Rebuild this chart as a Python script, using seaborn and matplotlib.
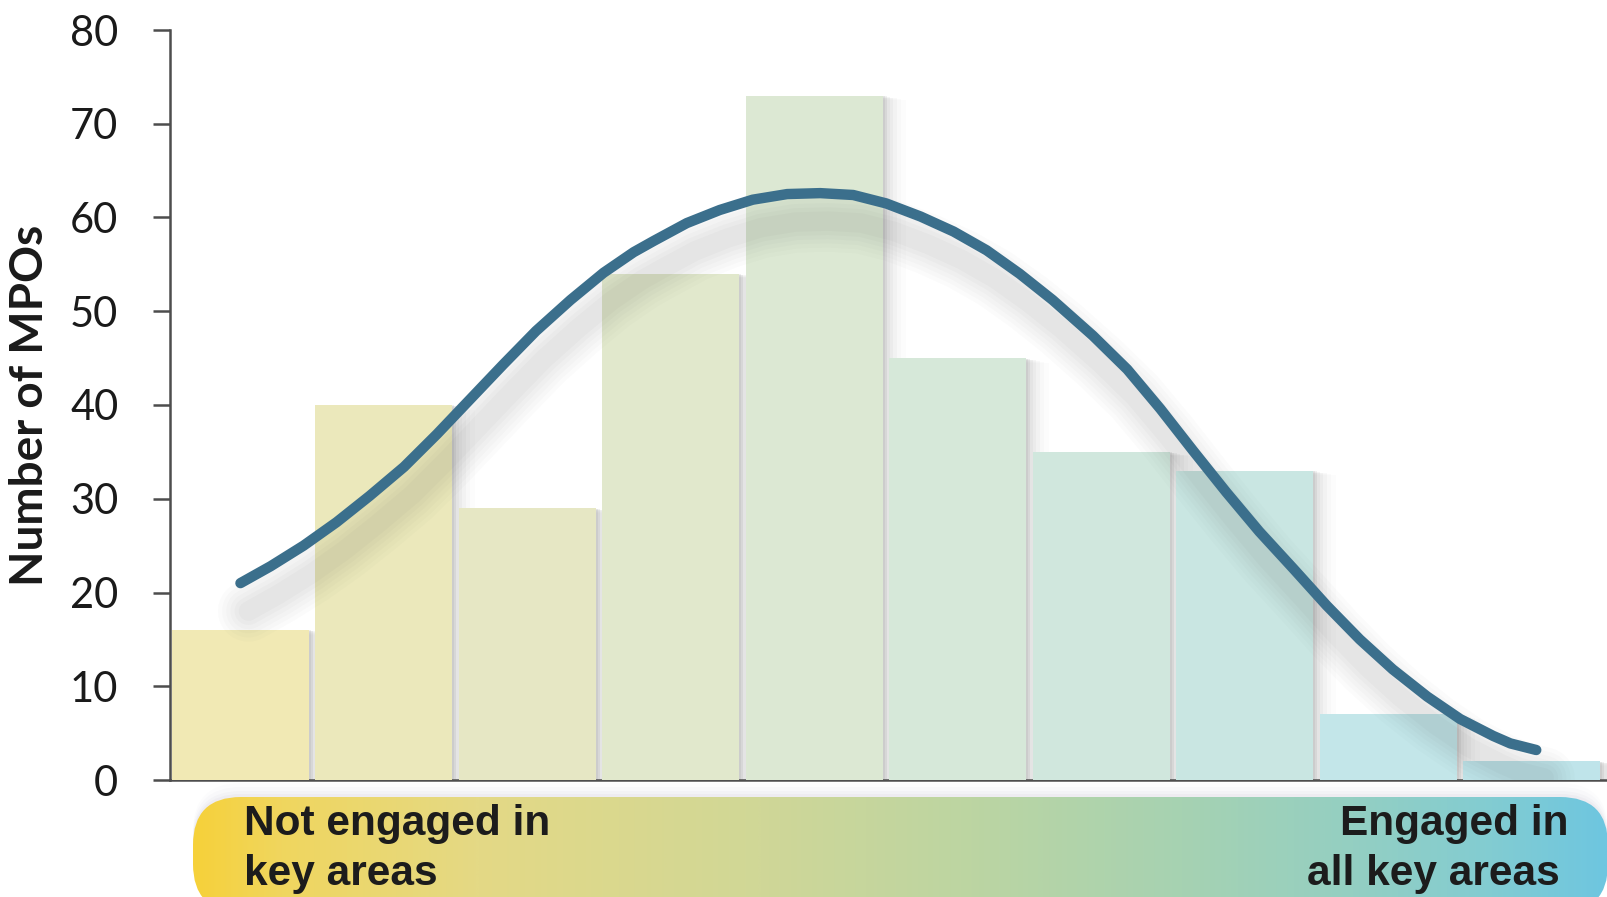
import numpy as np
import matplotlib
matplotlib.use("Agg")
import matplotlib.pyplot as plt
import matplotlib.transforms as mtransforms
from matplotlib.patches import FancyBboxPatch
from matplotlib.colors import LinearSegmentedColormap
import seaborn as sns

# Engagement bins, from least to most engaged, and the number of MPOs in each
bins = ["1", "2", "3", "4", "5", "6", "7", "8", "9", "10"]
mpo_counts = [16, 40, 29, 54, 73, 45, 35, 33, 7, 2]
bar_colors = ["#f1e9b4", "#ebe8bb", "#e6e7c4", "#e1e8cc", "#dce8d3",
              "#d6e8d9", "#d0e7dd", "#c9e6e2", "#c3e6e9", "#bfe4ea"]

# Smoothed distribution curve drawn over the bars (bin position, count)
curve_pos = [0.00, 0.21, 0.44, 0.67, 0.90, 1.14, 1.37, 1.60, 1.83, 2.06, 2.30,
             2.53, 2.74, 2.88, 3.11, 3.34, 3.57, 3.81, 4.04, 4.27, 4.50, 4.74,
             4.97, 5.20, 5.43, 5.66, 5.94, 6.18, 6.41, 6.64, 6.87, 7.10, 7.34,
             7.57, 7.80, 8.03, 8.27, 8.50, 8.73, 8.85, 9.03]
curve_val = [21.0, 22.8, 25.0, 27.5, 30.3, 33.4, 36.9, 40.6, 44.3, 47.9, 51.2,
             54.1, 56.3, 57.5, 59.4, 60.8, 61.9, 62.5, 62.6, 62.4, 61.5, 60.1,
             58.5, 56.5, 54.0, 51.2, 47.4, 43.8, 39.6, 35.1, 30.7, 26.5, 22.5,
             18.6, 15.0, 11.8, 8.9, 6.5, 4.7, 3.9, 3.2]

y_ticks = [0, 10, 20, 30, 40, 50, 60, 70, 80]
y_label = "Number of MPOs"
left_caption = ["Not engaged in", "key areas"]
right_caption = ["Engaged in", "all key areas"]
band_stops = [(0.00, "#f6d13a"), (0.06, "#f0d65e"), (0.20, "#e4d985"),
              (0.40, "#d0d797"), (0.55, "#bcd5a2"), (0.70, "#a6d2b2"),
              (0.82, "#94cfc2"), (0.92, "#82ccd2"), (1.00, "#6ec6e0")]

sns.set_theme(style="white")
plt.rcParams["font.family"] = ["Lato", "DejaVu Sans"]

W, H = 1608, 897
fig = plt.figure(figsize=(W / 100, H / 100), dpi=100)
fig.patch.set_facecolor("white")
ax = fig.add_axes([170 / W, 1 - 780 / H, (W - 170) / W, 750 / H])

bar_w = 0.955
sns.barplot(x=bins, y=mpo_counts, hue=bins, palette=bar_colors, legend=False,
            width=bar_w, saturation=1, linewidth=0, zorder=3, ax=ax)

# soft drop shadow to the right of each bar
x_idx = np.arange(len(mpo_counts))
for dx, a in [(2, 0.11), (4, 0.09), (7, 0.065), (10, 0.05), (14, 0.035), (18, 0.025),
              (23, 0.015)]:
    tr = mtransforms.offset_copy(ax.transData, fig=fig, x=dx, y=-dx * 0.2, units="dots")
    ax.bar(x_idx, mpo_counts, width=bar_w, color="#6e6e6e", alpha=a,
           linewidth=0, transform=tr, zorder=2)

# blurred shadow under the curve
for lw, a in [(44, 0.018), (38, 0.02), (32, 0.022), (26, 0.025), (20, 0.028), (14, 0.03)]:
    tr = mtransforms.offset_copy(ax.transData, fig=fig, x=8, y=-28, units="dots")
    ax.plot(curve_pos, curve_val, color="#505050", lw=lw, alpha=a, transform=tr,
            solid_capstyle="round", solid_joinstyle="round", zorder=4)

sns.lineplot(x=curve_pos, y=curve_val, sort=False, color="#3b6f8c", lw=7.5,
             solid_capstyle="round", solid_joinstyle="round", zorder=5, ax=ax)

ax.set_xlim(-0.491, 9.53)
ax.set_ylim(0, 80)
ax.set_yticks(y_ticks)
ax.set_yticklabels([str(t) for t in y_ticks])
ax.set_xticks([])
ax.set_xlabel("")
ax.set_ylabel("")
for side in ["top", "right"]:
    ax.spines[side].set_visible(False)
for side in ["left", "bottom"]:
    ax.spines[side].set_color("#4d4d4d")
    ax.spines[side].set_linewidth(1.8)
ax.tick_params(axis="y", left=True, direction="out", length=12.2, width=1.8,
               color="#4d4d4d", pad=25, labelsize=30, labelcolor="#1a1a1a")
ax.set_facecolor("white")

fig.text(30 / W, 1 - 405 / H, y_label, rotation=90, ha="center", va="center",
         fontsize=33, fontweight="bold", color="#1a1a1a")

# gradient band under the axis
pax = fig.add_axes([0, 0, 1, 1])
pax.set_xlim(0, W)
pax.set_ylim(H, 0)
pax.axis("off")
pax.patch.set_visible(False)

for dy, a in [(3, 0.05), (6, 0.04), (10, 0.03), (14, 0.02)]:
    pax.add_patch(FancyBboxPatch((193, 797 - dy), 1415, 115,
                                 boxstyle="round,pad=0,rounding_size=48",
                                 facecolor="#8a80a0", edgecolor="none", alpha=a,
                                 transform=pax.transData))

cmap = LinearSegmentedColormap.from_list("band", band_stops)
grad = np.linspace(0, 1, 512)[None, :]
im = pax.imshow(grad, cmap=cmap, extent=[193, 1608, 912, 797], aspect="auto",
                interpolation="bilinear", zorder=2)
pill = FancyBboxPatch((193, 797), 1415, 115, boxstyle="round,pad=0,rounding_size=48",
                      facecolor="none", edgecolor="none", transform=pax.transData)
pax.add_patch(pill)
im.set_clip_path(pill)
pax.set_xlim(0, W)
pax.set_ylim(H, 0)

cap_font = dict(fontsize=30.5, fontweight="bold", color="#1c1c1c",
                family=["Liberation Sans", "DejaVu Sans"], va="baseline", zorder=3)
pax.text(244, 835, left_caption[0], ha="left", **cap_font)
pax.text(244, 885, left_caption[1], ha="left", **cap_font)
pax.text(1569, 835, right_caption[0], ha="right", **cap_font)
pax.text(1560, 885, right_caption[1], ha="right", **cap_font)

fig.savefig("out.png", dpi=100, facecolor="white")
